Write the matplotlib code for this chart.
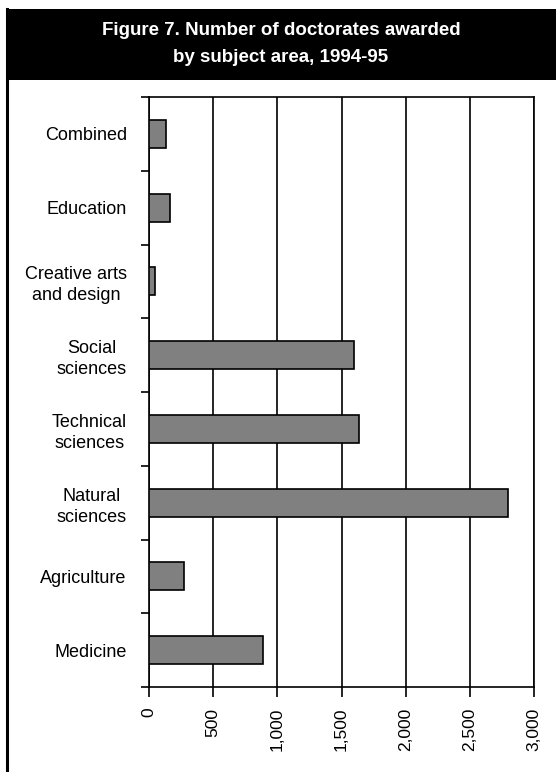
#!/usr/bin/env python3
# Horizontal bar chart: doctorates awarded by subject area, 1994-95

import numpy as np
import matplotlib.pyplot as plt
from matplotlib import font_manager
from matplotlib.patches import Rectangle
from matplotlib.lines import Line2D
from matplotlib.ticker import FuncFormatter

# data (top to bottom as drawn)
subjects = ['Combined', 'Education', 'Creative arts\nand design',
            'Social\nsciences', 'Technical\nsciences', 'Natural\nsciences',
            'Agriculture', 'Medicine']
doctorates = [130, 160, 50, 1595, 1640, 2800, 270, 890]
x_ticks = [0, 500, 1000, 1500, 2000, 2500, 3000]

title = 'Figure 7. Number of doctorates awarded\nby subject area, 1994-95'

# narrow sans if available, otherwise plain Liberation Sans
names = {f.name for f in font_manager.fontManager.ttflist}
if 'Liberation Sans Narrow' in names:
    FONT = ['Liberation Sans Narrow', 'DejaVu Sans']
else:
    FONT = ['Liberation Sans', 'DejaVu Sans']
plt.rcParams['font.family'] = FONT


def main():
    fig = plt.figure(figsize=(5.56, 7.72), dpi=100)
    W, H = 556.0, 772.0

    # title band and left frame line
    fig.patches.append(Rectangle((6 / W, 1 - 80 / H), 1 - 6 / W, 71 / H,
                                 transform=fig.transFigure,
                                 facecolor='black', edgecolor='none'))
    fig.lines.append(Line2D([7 / W, 7 / W], [0, 1 - 9 / H],
                            transform=fig.transFigure,
                            color='black', linewidth=2.2))
    fig.text(281 / W, 1 - 44 / H, title, color='white', fontsize=13.5,
             fontweight='bold', ha='center', va='center',
             linespacing=1.7)

    ax = fig.add_axes([149 / W, 1 - 687 / H, 385 / W, 590 / H])
    pos = np.arange(len(subjects))
    ax.barh(pos, doctorates, height=0.38, color='#808080',
            edgecolor='black', linewidth=1.2, zorder=3)

    ax.set_xlim(0, 3000)
    ax.set_ylim(len(subjects) - 0.5, -0.5)

    # vertical gridlines
    ax.set_xticks(x_ticks)
    ax.xaxis.set_major_formatter(FuncFormatter(lambda v, p: f'{int(v):,}'))
    ax.grid(axis='x', color='black', linewidth=1.2, zorder=1)
    ax.tick_params(axis='x', direction='out', length=7, width=1.2,
                   pad=8, labelsize=12.5, labelrotation=90)

    # category boundaries as major ticks, labels on minor ticks
    ax.set_yticks(np.arange(-0.5, len(subjects), 1.0))
    ax.set_yticklabels([])
    ax.set_yticks(pos, minor=True)
    ax.set_yticklabels(subjects, minor=True, multialignment='center',
                       linespacing=1.3)
    ax.tick_params(axis='y', which='major', direction='out', length=6,
                   width=1.2)
    ax.tick_params(axis='y', which='minor', length=0, pad=16,
                   labelsize=13)

    for side in ['left', 'bottom', 'top', 'right']:
        ax.spines[side].set_linewidth(1.2)

    fig.savefig('out.png', dpi=100)


if __name__ == '__main__':
    main()
